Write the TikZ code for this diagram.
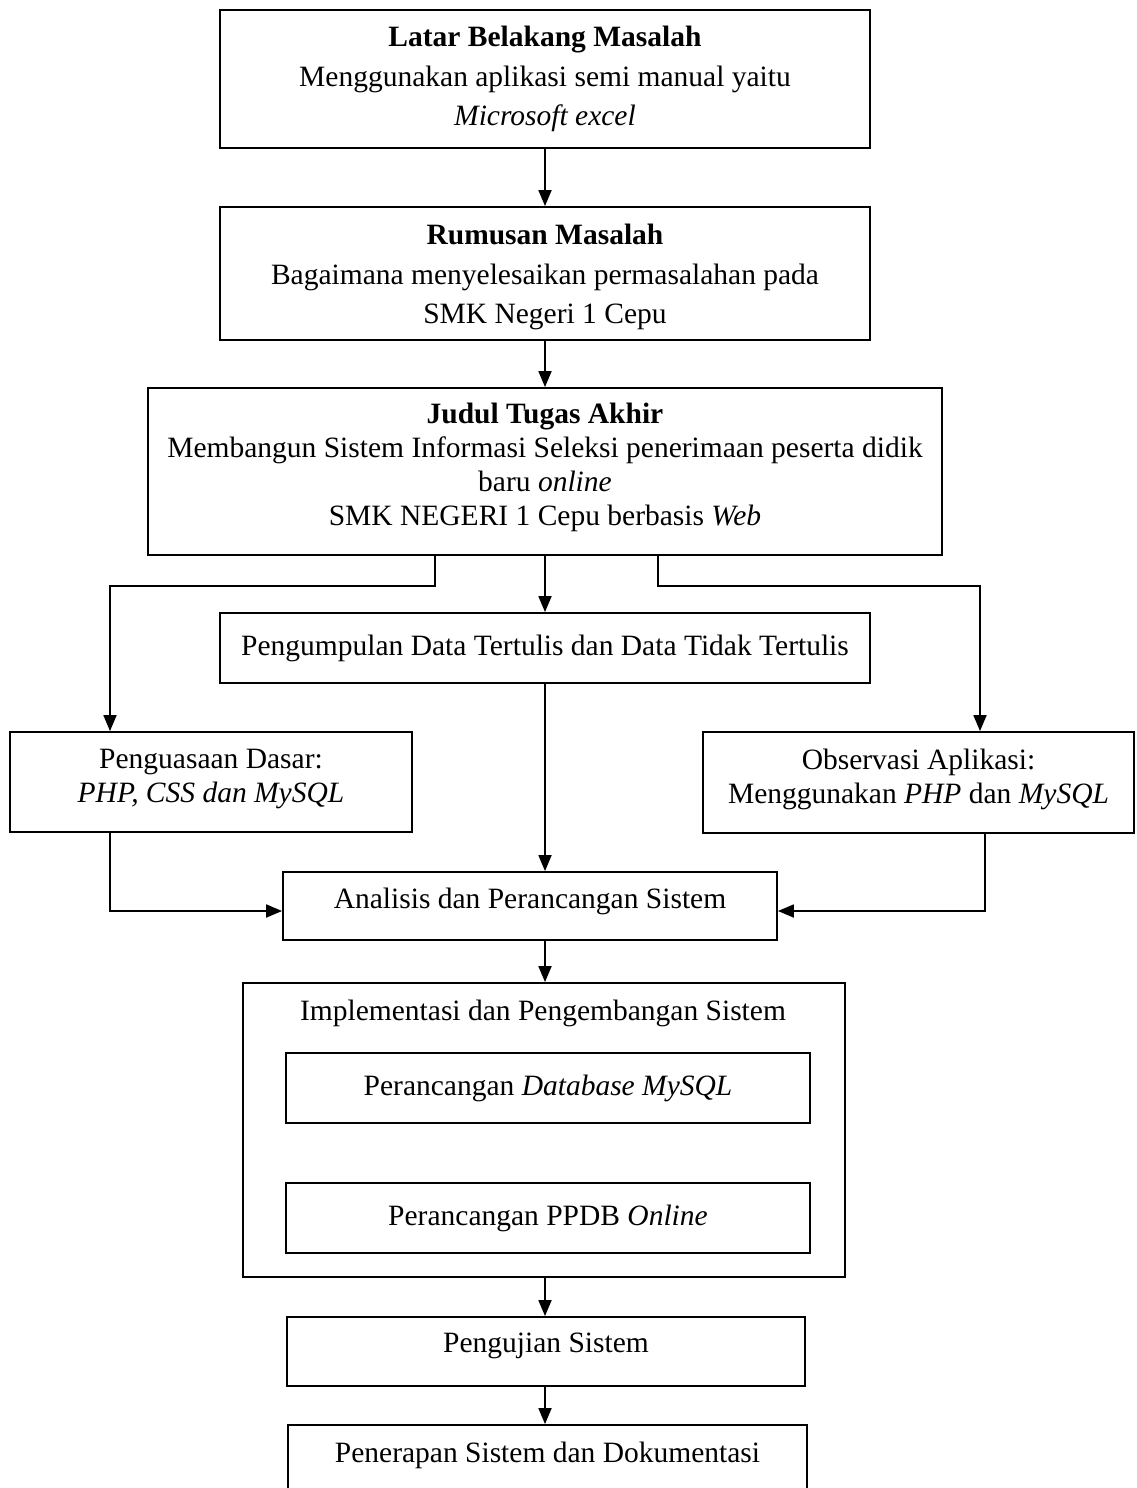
\documentclass[tikz,border=0pt]{standalone}
\usepackage{fontspec}
\setmainfont{Liberation Serif}
\usetikzlibrary{arrows.meta}
\begin{document}
\begin{tikzpicture}[x=1pt,y=-1pt,
  box/.style={draw,line width=1.8pt,inner sep=0pt,align=center,font=\fontsize{29.5}{34}\selectfont},
  wide/.style={font=\fontsize{29.5}{39.5}\selectfont},
  txt/.style={inner sep=0pt,align=center,font=\fontsize{29.5}{34}\selectfont},
  arr/.style={line width=1.8pt,-{Triangle[length=16pt,width=13pt]}}]
\useasboundingbox (0,0) rectangle (1136,1488);
% coordinates for connector routing
\coordinate (xm) at (545,0);
\coordinate (xl) at (435,0);
\coordinate (xr) at (658,0);
\coordinate (xb4) at (110,0);
\coordinate (xb6) at (980,0);
\coordinate (xb6b) at (985,0);
\coordinate (hy) at (0,586);
\coordinate (ay) at (0,911);
% boxes
\node[box,wide,minimum width=650pt,minimum height=138pt] (b1) at (545,79)
  {\textbf{Latar Belakang Masalah}\\Menggunakan aplikasi semi manual yaitu\\\textit{Microsoft excel}};
\node[box,minimum width=650pt,minimum height=133pt] (b2) at (545,273.5) {};
\node[txt,wide] (b2t) at (545,277)
  {\textbf{Rumusan Masalah}\\Bagaimana menyelesaikan permasalahan pada\\SMK Negeri 1 Cepu};
\node[box,minimum width=794pt,minimum height=167pt] (b3) at (545,471.5) {};
\node[txt] (b3t) at (545,467)
  {\textbf{Judul Tugas Akhir}\\Membangun Sistem Informasi Seleksi penerimaan peserta didik\\baru \textit{online}\\SMK NEGERI 1 Cepu berbasis \textit{Web}};
\node[box,minimum width=650pt,minimum height=70pt] (b5) at (545,648)
  {Pengumpulan Data Tertulis dan Data Tidak Tertulis};
\node[box,minimum width=402pt,minimum height=100pt] (b4) at (211,782) {};
\node[txt] (b4t) at (211,779) {Penguasaan Dasar:\\\textit{PHP, CSS dan MySQL}};
\node[box,minimum width=431pt,minimum height=101pt] (b6) at (918.5,782.5) {};
\node[txt] (b6t) at (918.5,779) {Observasi Aplikasi:\\Menggunakan \textit{PHP} dan \textit{MySQL}};
\node[box,minimum width=494pt,minimum height=68pt] (b7) at (530,906) {};
\node[txt] (b7t) at (530,901) {Analisis dan Perancangan Sistem};
\node[box,minimum width=602pt,minimum height=294pt] (b8) at (544,1130) {};
\node[txt] (b8t) at (543,1013) {Implementasi dan Pengembangan Sistem};
\node[box,minimum width=524pt,minimum height=70pt] (ia) at (548,1088)
  {Perancangan \textit{Database MySQL}};
\node[box,minimum width=524pt,minimum height=70pt] (ib) at (548,1218)
  {Perancangan PPDB \textit{Online}};
\node[box,minimum width=518pt,minimum height=69pt] (b9) at (546,1351.5) {};
\node[txt] (b9t) at (546,1346) {Pengujian Sistem};
\node[box,minimum width=519pt,minimum height=115pt] (b10) at (547.5,1482.5) {};
\node[txt] (b10t) at (547.5,1455) {Penerapan Sistem dan Dokumentasi};
% connectors
\draw[arr] (b1.south -| xm) -- (b2.north -| xm);
\draw[arr] (b2.south -| xm) -- (b3.north -| xm);
\draw[arr] (b3.south -| xm) -- (b5.north -| xm);
\draw[arr] (b3.south -| xl) -- (xl |- hy) -| (b4.north -| xb4);
\draw[arr] (b3.south -| xr) -- (xr |- hy) -| (b6.north -| xb6);
\draw[arr] (b5.south -| xm) -- (b7.north -| xm);
\draw[arr] (b4.south -| xb4) |- (b7.west |- ay);
\draw[arr] (b6.south -| xb6b) |- (b7.east |- ay);
\draw[arr] (b7.south -| xm) -- (b8.north -| xm);
\draw[arr] (b8.south -| xm) -- (b9.north -| xm);
\draw[arr] (b9.south -| xm) -- (b10.north -| xm);
\end{tikzpicture}
\end{document}
